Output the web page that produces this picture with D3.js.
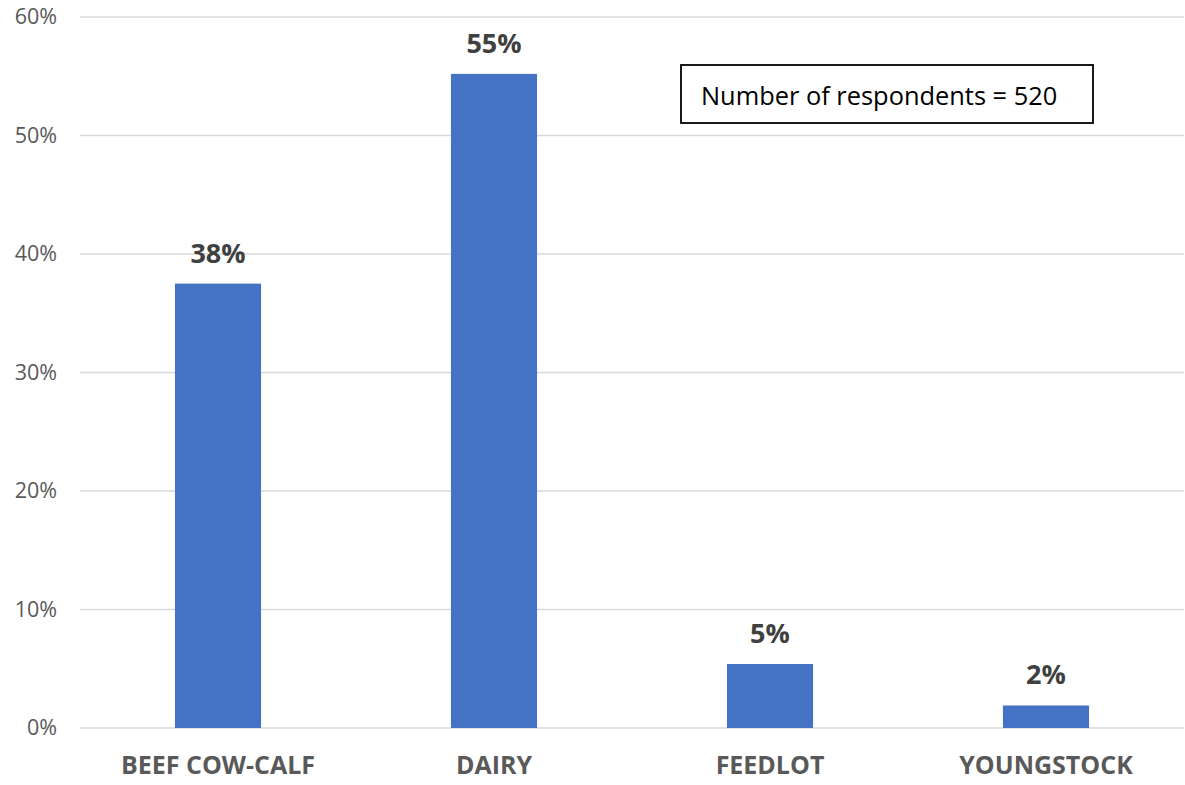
<!DOCTYPE html>
<html>
<head>
<meta charset="utf-8">
<script src="https://cdn.jsdelivr.net/npm/d3@7"></script>
<style>
  body { margin: 0; background: #fff; }
</style>
</head>
<body>
<div id="chart"></div>
<script>
var categories = ["BEEF COW-CALF", "DAIRY", "FEEDLOT", "YOUNGSTOCK"];
var values = [0.375, 0.552, 0.054, 0.019];
var valueLabels = ["38%", "55%", "5%", "2%"];
var yTicks = [0, 0.1, 0.2, 0.3, 0.4, 0.5, 0.6];
var note = "Number of respondents = 520";

var W = 1185, H = 785;
var margin = { left: 80, right: 1, top: 17, bottom: 57 };
var width = W - margin.left - margin.right;
var height = H - margin.top - margin.bottom;

var svg = d3.select("#chart")
  .append("svg")
  .attr("width", W)
  .attr("height", H);

var g = svg.append("g")
  .attr("transform", "translate(" + margin.left + "," + margin.top + ")");

var x = d3.scaleBand()
  .domain(categories)
  .range([0, width])
  .paddingInner(0.688)
  .paddingOuter(0.344);

var y = d3.scaleLinear()
  .domain([0, 0.6])
  .range([height, 0]);

// gridlines
g.selectAll(".grid")
  .data(yTicks)
  .enter()
  .append("line")
  .attr("x1", 0)
  .attr("x2", width)
  .attr("y1", function (d) { return y(d); })
  .attr("y2", function (d) { return y(d); })
  .attr("stroke", "#d9d9d9")
  .attr("stroke-width", 1.5);

// y axis labels
var yAxis = d3.axisLeft(y)
  .tickValues(yTicks)
  .tickSize(0)
  .tickPadding(23)
  .tickFormat(d3.format(".0%"));

g.append("g")
  .call(yAxis)
  .call(function (s) { s.select(".domain").remove(); })
  .selectAll("text")
  .attr("font-family", "'Open Sans', sans-serif")
  .attr("font-size", "21.5px")
  .attr("fill", "#595959");

// bars
g.selectAll(".bar")
  .data(values)
  .enter()
  .append("rect")
  .attr("x", function (d, i) { return x(categories[i]); })
  .attr("y", function (d) { return y(d); })
  .attr("width", x.bandwidth())
  .attr("height", function (d) { return height - y(d); })
  .attr("fill", "#4472c4");

// value labels
g.selectAll(".vlabel")
  .data(values)
  .enter()
  .append("text")
  .attr("x", function (d, i) { return x(categories[i]) + x.bandwidth() / 2; })
  .attr("y", function (d) { return y(d) - 21; })
  .attr("text-anchor", "middle")
  .attr("font-family", "'Open Sans', sans-serif")
  .attr("font-weight", "bold")
  .attr("font-size", "27px")
  .attr("fill", "#404040")
  .text(function (d, i) { return valueLabels[i]; });

// x axis labels
var xAxis = d3.axisBottom(x).tickSize(0).tickPadding(28);

g.append("g")
  .attr("transform", "translate(0," + height + ")")
  .call(xAxis)
  .call(function (s) { s.select(".domain").remove(); })
  .selectAll("text")
  .attr("font-family", "'Open Sans', sans-serif")
  .attr("font-weight", "bold")
  .attr("font-size", "25px")
  .attr("fill", "#595959");

// respondents box
svg.append("rect")
  .attr("x", 681)
  .attr("y", 65)
  .attr("width", 412)
  .attr("height", 58)
  .attr("fill", "#fff")
  .attr("stroke", "#000")
  .attr("stroke-width", 1.8);

svg.append("text")
  .attr("x", 701)
  .attr("y", 105)
  .attr("font-family", "'Open Sans', sans-serif")
  .attr("font-size", "25.4px")
  .attr("fill", "#000")
  .text(note);
</script>
</body>
</html>
